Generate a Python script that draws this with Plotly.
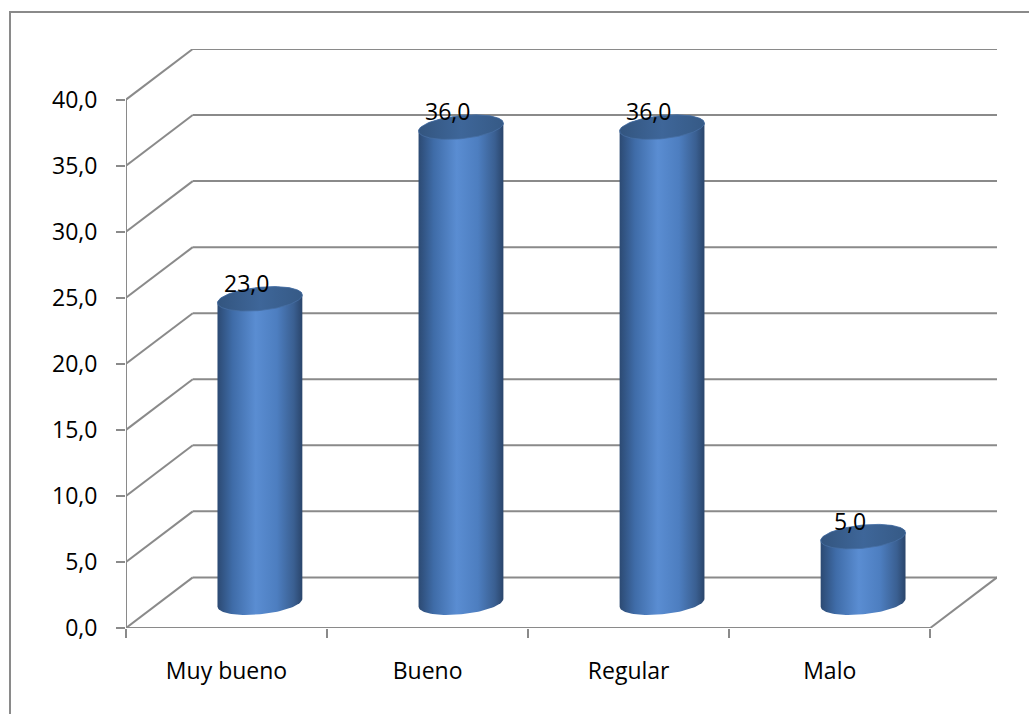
import numpy as np
import plotly.graph_objects as go

# ---- data ----
categories = ["Muy bueno", "Bueno", "Regular", "Malo"]
values = [23.0, 36.0, 36.0, 5.0]
y_tick_vals = [0, 5, 10, 15, 20, 25, 30, 35, 40]
y_tick_text = ["0,0", "5,0", "10,0", "15,0", "20,0", "25,0", "30,0", "35,0", "40,0"]
bar_labels = ["23,0", "36,0", "36,0", "5,0"]

# ---- geometry / style constants ----
W, H = 1029, 714
ML, MR, MT, MB = 126, 32, 49.4, 86
DX = 0.332      # depth offset along x (category units)
DY = 3.83       # depth offset along y (value units)
RX = 0.211      # cylinder radius (x units)
RY = 0.88       # ellipse half-height (y units)
SHEAR = 0.30    # slight tilt of the ellipses
GRID = "#8a8a8a"
FONT = "Open Sans"
FS = 23

body_scale = [
    [0.0, "#2c4a73"], [0.18, "#3f6ca8"], [0.45, "#5a8dd2"],
    [0.7, "#4d7ec0"], [0.9, "#3a5f91"], [1.0, "#2a456b"],
]
cap_scale = [[0.0, "#33557f"], [0.5, "#3e6699"], [1.0, "#365a86"]]

fig = go.Figure()

t = np.linspace(0, 2 * np.pi, 121)

def ell(cx, cy, tt):
    return cx + RX * np.cos(tt), cy + RY * np.sin(tt) + SHEAR * np.cos(tt)

for i, v in enumerate(values):
    cx = i + 0.5 + DX / 2
    yb = DY / 2
    yt = v + DY / 2
    tb = np.linspace(np.pi, 2 * np.pi, 61)
    tt_ = np.linspace(0, np.pi, 61)
    xb, ybv = ell(cx, yb, tb)
    xt, ytv = ell(cx, yt, tt_)
    xs = np.concatenate([xb, xt, xb[:1]])
    ys = np.concatenate([ybv, ytv, ybv[:1]])
    fig.add_trace(go.Scatter(
        x=xs, y=ys, mode="lines", fill="toself",
        line=dict(width=0, color="rgba(0,0,0,0)"),
        fillgradient=dict(type="horizontal", colorscale=body_scale),
        hoverinfo="skip", showlegend=False,
    ))
    xc, yc = ell(cx, yt, t)
    fig.add_trace(go.Scatter(
        x=xc, y=yc, mode="lines", fill="toself",
        line=dict(width=0.8, color="#466fa3"),
        fillgradient=dict(type="horizontal", colorscale=cap_scale),
        hoverinfo="skip", showlegend=False,
    ))

# ---- walls / grid ----
shapes = []
n = len(categories)
for v in y_tick_vals:
    shapes.append(dict(type="line", xref="x", yref="y", x0=DX, x1=n + DX,
                       y0=v + DY, y1=v + DY, line=dict(color=GRID, width=2), layer="below"))
    shapes.append(dict(type="line", xref="x", yref="y", x0=0, x1=DX,
                       y0=v, y1=v + DY, line=dict(color=GRID, width=2), layer="below"))
# floor right edge
shapes.append(dict(type="line", xref="x", yref="y", x0=n, x1=n + DX, y0=0, y1=DY,
                   line=dict(color=GRID, width=2), layer="below"))
# front axes
shapes.append(dict(type="line", xref="x", yref="y", x0=0, x1=n, y0=0, y1=0,
                   line=dict(color=GRID, width=2), layer="below"))
shapes.append(dict(type="line", xref="x", yref="y", x0=0, x1=0, y0=0, y1=max(y_tick_vals),
                   line=dict(color=GRID, width=2), layer="below"))

# outer chart frame (left and top only visible)
pw = W - ML - MR
ph = H - MT - MB
def px(xp): return (xp - ML) / pw
def py(yp): return (H - MB - yp) / ph
shapes.append(dict(type="path", xref="paper", yref="paper",
                   path=f"M {px(10)} {py(714)} L {px(10)} {py(12.5)} L {px(1029)} {py(12.5)}",
                   line=dict(color=GRID, width=2)))

annotations = []
for i, (v, lab) in enumerate(zip(values, bar_labels)):
    annotations.append(dict(x=i + 0.6, y=v + 3.1, xref="x", yref="y", text=lab,
                            showarrow=False, font=dict(family=FONT, size=FS, color="black"),
                            xanchor="center", yanchor="middle"))

fig.update_layout(
    width=W, height=H, autosize=False,
    margin=dict(l=ML, r=MR, t=MT, b=MB, pad=0),
    paper_bgcolor="white", plot_bgcolor="white",
    shapes=shapes, annotations=annotations,
    showlegend=False,
    font=dict(family=FONT, size=FS, color="black"),
    xaxis=dict(range=[0, n + DX], tickmode="array",
               tickvals=[i + 0.5 for i in range(n)], ticktext=categories,
               ticks="", showgrid=False, zeroline=False, showline=False,
               tickfont=dict(family=FONT, size=FS, color="black"),
               ticklabelstandoff=27,
               minor=dict(tickmode="array", tickvals=list(range(n + 1)), ticks="outside",
                          ticklen=9, tickwidth=2, tickcolor=GRID, showgrid=False),
               fixedrange=True),
    yaxis=dict(range=[0, max(y_tick_vals) + DY], tickmode="array",
               tickvals=y_tick_vals, ticktext=y_tick_text,
               ticks="outside", ticklen=9, tickwidth=2, tickcolor=GRID,
               showgrid=False, zeroline=False, showline=False,
               tickfont=dict(family=FONT, size=FS, color="black"),
               ticklabelstandoff=14, fixedrange=True),
)

fig.write_html("out.html")
